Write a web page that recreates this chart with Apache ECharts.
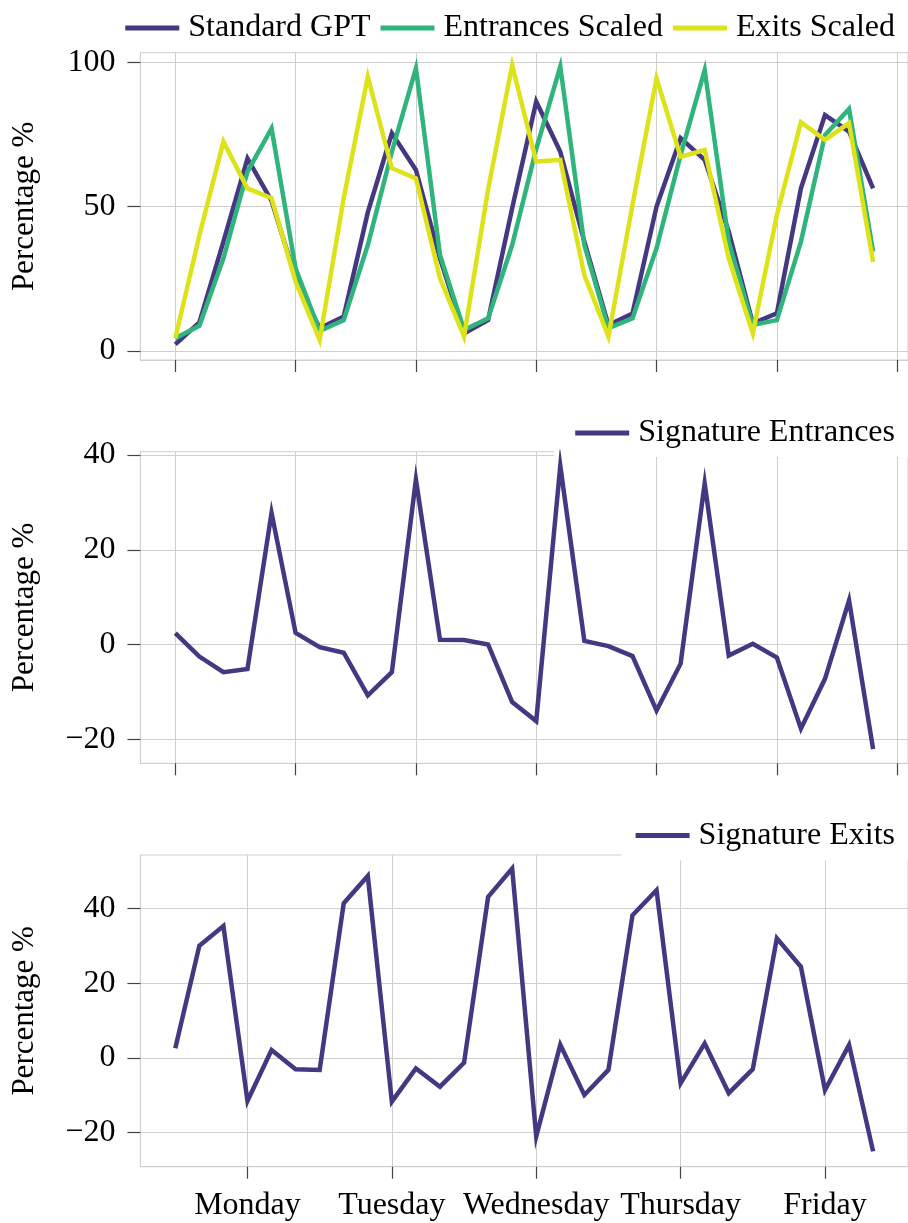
<!DOCTYPE html>
<html><head><meta charset="utf-8">
<script src="https://cdn.jsdelivr.net/npm/echarts@6/dist/echarts.min.js"></script>
<style>html,body{margin:0;padding:0;background:#fff}#c{width:908px;height:1223px}</style>
</head><body><div id="c"></div>
<script>
// ---- data ----
const standardGPT = [2.3, 9.9, 37.9, 66.7, 52, 25.2, 7.9, 11.9, 48, 75.4, 62.7, 32.1, 6.1, 10.7, 49.4, 86.4, 69, 37.9, 9.0, 13.0, 50.0, 73.7, 66.2, 41.3, 9.6, 13.0, 56.3, 81.7, 76.0, 56.3];
const entrancesScaled = [4.4, 8.7, 32.1, 62.1, 77.1, 28.6, 6.9, 10.7, 36.7, 69, 97.9, 33.3, 7.3, 11.3, 36.7, 70, 98.5, 36.7, 7.9, 11.3, 35.6, 67.9, 97.3, 37.9, 9.0, 10.7, 37.9, 74.8, 83.8, 34.4];
const exitsScaled = [4.4, 40, 72.5, 56.3, 52.9, 24.0, 3.8, 53, 95.0, 63.3, 59.8, 25.2, 5.0, 56, 99, 65.6, 66.2, 26.3, 5.0, 50.6, 94.4, 67.3, 69.6, 32.1, 6.1, 47.1, 79.2, 73.1, 78.9, 30.9];
const signatureEntrances = [2.45, -2.5, -5.8, -5.1, 27.8, 2.5, -0.5, -1.7, -10.7, -5.8, 34.8, 1.05, 1.0, 0.05, -12.1, -16.1, 37.7, 0.8, -0.3, -2.4, -13.9, -4.0, 34, -2.3, 0.2, -2.7, -17.7, -7.2, 9.35, -22.0];
const signatureExits = [2.6, 30.0, 35.3, -11.5, 2.1, -3.0, -3.2, 41.4, 48.7, -11.7, -2.8, -7.7, -1.3, 43.1, 50.7, -21, 3.5, -9.9, -3.2, 38.2, 44.9, -6.8, 3.9, -9.4, -3.0, 32.0, 24.4, -8.6, 3.5, -25.0];
const dayLabels = ['Monday', 'Tuesday', 'Wednesday', 'Thursday', 'Friday'];
const dayTicks = [3, 9, 15, 21, 27];
const upperXTicks = [0, 5, 10, 15, 20, 25, 30];
const topYTicks = [0, 50, 100];
const midYTicks = [-20, 0, 20, 40];
const botYTicks = [-20, 0, 20, 40];

// ---- styling ----
const FONT = '"Liberation Serif", "DejaVu Serif", serif';
const PURPLE = '#453781', GREEN = '#2fb47c', YELLOW = '#dde318';
const GRIDC = '#cfcfcf', TICKC = '#444';
const toXY = arr => arr.map((v, i) => [i, v]);

const grids = [
  {left: 140.4, top: 52.7, width: 768.4, height: 307.3},
  {left: 140.4, top: 451.7, width: 768.4, height: 311.6},
  {left: 140.4, top: 855, width: 768.4, height: 311.7}
].map(g => Object.assign(g, {show: true, borderColor: GRIDC, borderWidth: 1, backgroundColor: 'transparent', containLabel: false}));

function xAxis(gi, ticks, labels) {
  return {
    type: 'value', gridIndex: gi, min: -1.45, max: 30.45, position: 'bottom',
    axisLine: {show: true, onZero: false, lineStyle: {color: GRIDC, width: 1}},
    axisTick: {show: true, inside: false, length: 12, customValues: ticks, lineStyle: {color: TICKC, width: 1.2}},
    axisLabel: labels ? {show: true, customValues: ticks, margin: 23, color: '#000', fontFamily: FONT, fontSize: 32,
      formatter: v => { const k = ticks.indexOf(v); return k >= 0 ? labels[k] : ''; }} : {show: false},
    splitLine: {show: true, lineStyle: {color: GRIDC, width: 1}}
  };
}
function yAxis(gi, min, max, ticks) {
  return {
    type: 'value', gridIndex: gi, min: min, max: max, position: 'left',
    name: 'Percentage %', nameLocation: 'middle', nameGap: 100, nameRotate: 90,
    nameTextStyle: {fontFamily: FONT, fontSize: 31, color: '#000'},
    axisLine: {show: true, onZero: false, lineStyle: {color: GRIDC, width: 1}},
    axisTick: {show: true, inside: false, length: 13, customValues: ticks, lineStyle: {color: TICKC, width: 1.2}},
    axisLabel: {show: true, customValues: ticks, margin: 25, color: '#000', fontFamily: FONT, fontSize: 32,
      formatter: v => (v < 0 ? '\u2212' + Math.abs(v) : String(v))},
    splitLine: {show: true, lineStyle: {color: GRIDC, width: 1}}
  };
}
function line(name, data, color, gi, z) {
  return {
    type: 'line', name: name, xAxisIndex: gi, yAxisIndex: gi, data: toXY(data),
    symbol: 'none', showSymbol: false, z: z || 2, animation: false,
    lineStyle: {color: color, width: 4.5, join: 'miter', miterLimit: 10, cap: 'butt'},
    itemStyle: {color: color}
  };
}
const legendBase = {
  orient: 'horizontal', itemWidth: 54, itemHeight: 5, itemGap: 10, icon: 'rect',
  textStyle: {fontFamily: FONT, fontSize: 32, color: '#000', padding: [0, 0, 0, 4]},
  selectedMode: false
};

const option = {
  animation: false,
  backgroundColor: '#fff',
  grid: grids,
  xAxis: [xAxis(0, upperXTicks, null), xAxis(1, upperXTicks, null), xAxis(2, dayTicks, dayLabels)],
  yAxis: [yAxis(0, -3.12, 103.3, topYTicks), yAxis(1, -25.0, 40.68, midYTicks), yAxis(2, -29.1, 54.3, botYTicks)],
  legend: [
    Object.assign({}, legendBase, {data: ['Standard GPT', 'Entrances Scaled', 'Exits Scaled'], right: 0, top: 12, padding: [0, 13, 0, 0]}),
    Object.assign({}, legendBase, {data: ['Signature Entrances'], right: 0, top: 412, padding: [5, 13, 8, 21], backgroundColor: '#fff'}),
    Object.assign({}, legendBase, {data: ['Signature Exits'], right: 0, top: 814.5, padding: [5, 13, 9, 14], backgroundColor: '#fff'})
  ],
  series: [
    line('Standard GPT', standardGPT, PURPLE, 0),
    line('Entrances Scaled', entrancesScaled, GREEN, 0),
    line('Exits Scaled', exitsScaled, YELLOW, 0),
    line('Signature Entrances', signatureEntrances, PURPLE, 1, 5),
    line('Signature Exits', signatureExits, PURPLE, 2, 5)
  ]
};
const chart = echarts.init(document.getElementById('c'), null, {renderer: 'canvas'});
chart.setOption(option);
</script>
</body></html>
